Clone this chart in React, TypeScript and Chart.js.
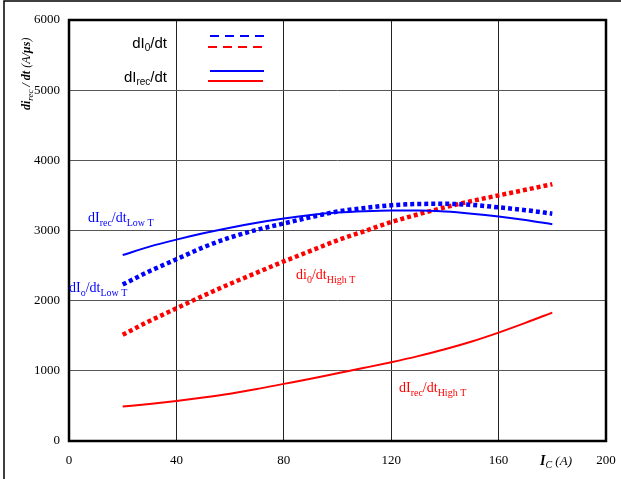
import React, { useEffect, useRef } from "react";
import { Chart, registerables } from "chart.js";

Chart.register(...registerables);

// Collector current I_C (A)
const currents = [20, 30, 40, 50, 60, 70, 80, 90, 100, 110, 120, 130, 140, 150, 160, 170, 180];
// dI0/dt at low T (blue dotted)
const dI0LowT = [2230, 2420, 2590, 2760, 2900, 3010, 3100, 3190, 3270, 3320, 3360, 3378, 3380, 3365, 3330, 3290, 3240];
// dIrec/dt at low T (blue solid)
const dIrecLowT = [2650, 2770, 2870, 2960, 3040, 3110, 3170, 3220, 3255, 3275, 3285, 3285, 3270, 3240, 3200, 3150, 3090];
// dI0/dt at high T (red dotted)
const dI0HighT = [1514, 1710, 1890, 2070, 2240, 2400, 2560, 2710, 2860, 2990, 3120, 3230, 3330, 3420, 3500, 3580, 3660];
// dIrec/dt at high T (red solid)
const dIrecHighT = [490, 528, 571, 620, 675, 740, 814, 888, 966, 1043, 1123, 1210, 1307, 1418, 1545, 1683, 1830];

const xMin = 0, xMax = 200, xStep = 40;
const yMin = 0, yMax = 6000, yStep = 1000;

const BLUE = "#0000ff";
const RED = "#ff0000";
const SERIF = "'Liberation Serif', 'Times New Roman', serif";
const SANS = "'Liberation Sans', Arial, sans-serif";

type Part = { t: string; sub?: boolean };

function richWidth(ctx: CanvasRenderingContext2D, parts: Part[], size: number, subSize: number, family: string, style: string) {
  let w = 0;
  for (const p of parts) {
    ctx.font = `${style} ${p.sub ? subSize : size}px ${family}`;
    w += ctx.measureText(p.t).width;
  }
  return w;
}

function drawRich(
  ctx: CanvasRenderingContext2D,
  x: number,
  y: number,
  parts: Part[],
  size: number,
  subSize: number,
  family: string,
  style: string,
  color: string,
  align: "left" | "right" = "left",
  subOffset = 4
) {
  ctx.save();
  ctx.fillStyle = color;
  ctx.textBaseline = "alphabetic";
  ctx.textAlign = "left";
  let cx = x;
  if (align === "right") cx = x - richWidth(ctx, parts, size, subSize, family, style);
  for (const p of parts) {
    ctx.font = `${style} ${p.sub ? subSize : size}px ${family}`;
    ctx.fillText(p.t, cx, p.sub ? y + subOffset : y);
    cx += ctx.measureText(p.t).width;
  }
  ctx.restore();
}

const overlay = {
  id: "overlay",
  afterDraw(chart: any) {
    const ctx: CanvasRenderingContext2D = chart.ctx;
    const a = chart.chartArea;
    ctx.save();
    // outer frame (top + left)
    ctx.strokeStyle = "#000";
    ctx.lineWidth = 1.5;
    ctx.beginPath();
    ctx.moveTo(4, 479);
    ctx.lineTo(4, 1);
    ctx.lineTo(621, 1);
    ctx.stroke();
    // plot frame
    ctx.lineWidth = 2.5;
    ctx.strokeRect(a.left, a.top, a.right - a.left, a.bottom - a.top);

    // legend lines
    const seg = (x1: number, x2: number, y: number, color: string, dash: number[]) => {
      ctx.save();
      ctx.strokeStyle = color;
      ctx.lineWidth = 2;
      ctx.setLineDash(dash);
      ctx.beginPath();
      ctx.moveTo(x1, y);
      ctx.lineTo(x2, y);
      ctx.stroke();
      ctx.restore();
    };
    seg(210, 264, 36, BLUE, [9, 6]);
    seg(208, 263, 47, RED, [9, 6]);
    seg(210, 264, 71, BLUE, []);
    seg(208, 263, 81, RED, []);
    ctx.restore();

    // legend text
    drawRich(ctx, 167, 48, [{ t: "dI" }, { t: "0", sub: true }, { t: "/dt" }], 15, 10, SANS, "", "#000", "right", 3);
    drawRich(ctx, 167, 82, [{ t: "dI" }, { t: "rec", sub: true }, { t: "/dt" }], 15, 10, SANS, "", "#000", "right", 3);

    // curve annotations
    drawRich(ctx, 88, 222, [{ t: "dI" }, { t: "rec", sub: true }, { t: "/dt" }, { t: "Low T", sub: true }], 14, 10, SERIF, "", BLUE);
    drawRich(ctx, 69, 292, [{ t: "dI" }, { t: "o", sub: true }, { t: "/dt" }, { t: "Low T", sub: true }], 14, 10, SERIF, "", BLUE);
    drawRich(ctx, 296, 279, [{ t: "di" }, { t: "0", sub: true }, { t: "/dt" }, { t: "High T", sub: true }], 14, 10, SERIF, "", RED);
    drawRich(ctx, 399, 392, [{ t: "dI" }, { t: "rec", sub: true }, { t: "/dt" }, { t: "High T", sub: true }], 14, 10, SERIF, "", RED);

    // x axis title
    drawRich(ctx, 540, 465, [{ t: "I" }], 14, 10, SERIF, "italic bold", "#000");
    ctx.save();
    ctx.font = `italic bold 14px ${SERIF}`;
    const iw = ctx.measureText("I").width;
    ctx.restore();
    drawRich(ctx, 540 + iw, 465, [{ t: "C", sub: true }, { t: " (A)" }], 13, 10, SERIF, "italic", "#000", "left", 3);

    // y axis title (rotated)
    ctx.save();
    ctx.translate(30, 110);
    ctx.rotate(-Math.PI / 2);
    drawRich(ctx, 0, 0, [{ t: "di" }], 12, 9, SERIF, "italic bold", "#000");
    ctx.font = `italic bold 12px ${SERIF}`;
    let off = ctx.measureText("di").width;
    drawRich(ctx, off, 0, [{ t: "rec", sub: true }], 12, 9, SERIF, "italic", "#000", "left", 3);
    ctx.font = `italic 9px ${SERIF}`;
    off += ctx.measureText("rec").width;
    drawRich(ctx, off, 0, [{ t: " / dt " }], 12, 9, SERIF, "italic bold", "#000");
    ctx.font = `italic bold 12px ${SERIF}`;
    off += ctx.measureText(" / dt ").width;
    drawRich(ctx, off, 0, [{ t: "(A/" }], 12, 9, SERIF, "italic", "#000");
    ctx.font = `italic 12px ${SERIF}`;
    off += ctx.measureText("(A/").width;
    drawRich(ctx, off, 0, [{ t: "µs" }], 12, 9, SERIF, "italic bold", "#000");
    ctx.font = `italic bold 12px ${SERIF}`;
    off += ctx.measureText("µs").width;
    drawRich(ctx, off, 0, [{ t: ")" }], 12, 9, SERIF, "italic", "#000");
    ctx.restore();
  },
};

const toPts = (ys: number[]) => currents.map((x, i) => ({ x, y: ys[i] }));

export default function App() {
  const ref = useRef<HTMLCanvasElement | null>(null);

  useEffect(() => {
    document.body.style.margin = "0";
    if (!ref.current) return;
    const dotted = { borderDash: [4, 3], borderWidth: 4.5, borderCapStyle: "butt" as const };
    const chart = new Chart(ref.current, {
      type: "line",
      data: {
        datasets: [
          { label: "dI0/dt Low T", data: toPts(dI0LowT), borderColor: BLUE, ...dotted },
          { label: "dIrec/dt Low T", data: toPts(dIrecLowT), borderColor: BLUE, borderWidth: 2 },
          { label: "dI0/dt High T", data: toPts(dI0HighT), borderColor: RED, ...dotted },
          { label: "dIrec/dt High T", data: toPts(dIrecHighT), borderColor: RED, borderWidth: 2 },
        ] as any,
      },
      options: {
        animation: false,
        responsive: false,
        devicePixelRatio: 1,
        elements: {
          point: { radius: 0, hoverRadius: 0 },
          line: { cubicInterpolationMode: "monotone", fill: false },
        },
        layout: { padding: { left: 0, top: 20, right: 15, bottom: 0 } },
        plugins: { legend: { display: false }, tooltip: { enabled: false } },
        scales: {
          x: {
            type: "linear",
            min: xMin,
            max: xMax,
            ticks: {
              stepSize: xStep,
              padding: 12,
              color: "#000",
              font: { family: SERIF, size: 13 },
              maxRotation: 0,
              callback: (v: any) => String(v),
            },
            grid: { color: "#222", lineWidth: 1, drawTicks: false },
            border: { display: false },
            afterFit: (s: any) => {
              s.height = 38;
              s.paddingRight = 0;
              s.paddingLeft = 0;
            },
          },
          y: {
            type: "linear",
            min: yMin,
            max: yMax,
            ticks: {
              stepSize: yStep,
              padding: 9,
              color: "#000",
              font: { family: SERIF, size: 13 },
              callback: (v: any) => String(v),
            },
            grid: { color: "#555", lineWidth: 1, drawTicks: false },
            border: { display: false },
            afterFit: (s: any) => {
              s.width = 69;
              s.paddingTop = 0;
              s.paddingBottom = 0;
            },
          },
        },
      },
      plugins: [overlay],
    });
    return () => chart.destroy();
  }, []);

  return (
    <div style={{ width: 621, height: 479, position: "relative" }}>
      <canvas ref={ref} width={621} height={479} style={{ display: "block" }} />
    </div>
  );
}
